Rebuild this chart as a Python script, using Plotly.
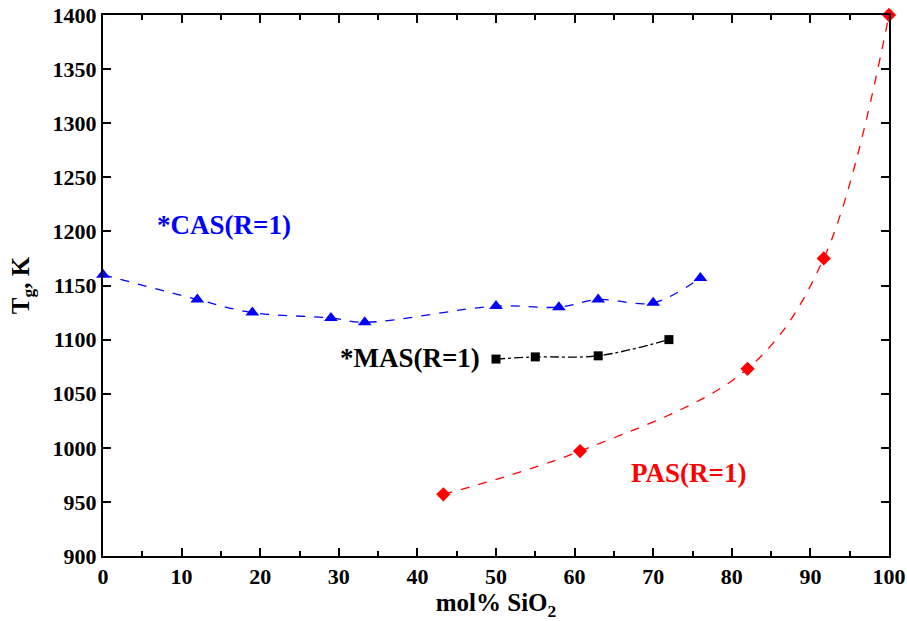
import plotly.graph_objects as go

cas_x = [0, 12, 19, 29, 33.3, 50, 58, 63, 70, 76]
cas_y = [1160, 1137, 1125, 1120, 1116, 1131, 1130, 1137, 1134, 1157]
mas_x = [50, 55, 63, 72]
mas_y = [1082, 1084, 1085, 1100]
pas_x = [43.3, 60.7, 82, 91.7, 100]
pas_y = [957, 997, 1073, 1175, 1400]

x_ticks = [0, 10, 20, 30, 40, 50, 60, 70, 80, 90, 100]
y_ticks = [900, 950, 1000, 1050, 1100, 1150, 1200, 1250, 1300, 1350, 1400]

font = "Liberation Serif"

fig = go.Figure()
fig.add_trace(go.Scatter(x=cas_x, y=cas_y, mode="lines+markers",
    line=dict(color="#0000ff", width=1.3, dash="dash", shape="spline"),
    marker=dict(symbol="triangle-up", size=12, color="#0000ff"), cliponaxis=False))
fig.add_trace(go.Scatter(x=mas_x, y=mas_y, mode="lines+markers",
    line=dict(color="black", width=1.3, dash="dashdot", shape="spline"),
    marker=dict(symbol="square", size=9, color="black"), cliponaxis=False))
fig.add_trace(go.Scatter(x=pas_x, y=pas_y, mode="lines+markers",
    line=dict(color="#ff0000", width=1.3, dash="dash", shape="spline"),
    marker=dict(symbol="diamond", size=11, color="#ff0000"), cliponaxis=False))

fig.add_annotation(x=6.6, y=1206, text="*CAS(R=1)", showarrow=False, xanchor="left",
                   font=dict(family=font, size=27, color="#0000ff", weight="bold"))
fig.add_annotation(x=48.2, y=1083, text="*MAS(R=1)", showarrow=False, xanchor="right",
                   font=dict(family=font, size=27, color="black", weight="bold"))
fig.add_annotation(x=74.5, y=976.5, text="PAS(R=1)", showarrow=False,
                   font=dict(family=font, size=27, color="#ff0000", weight="bold"))

axis_common = dict(showline=True, linecolor="black", linewidth=2, mirror="ticks",
                   ticks="inside", ticklen=8, tickwidth=2, tickcolor="black",
                   showgrid=False, zeroline=False, automargin=False,
                   ticklabeloverflow="allow",
                   minor=dict(ticks="inside", ticklen=5, tickwidth=2, tickcolor="black"),
                   tickfont=dict(family=font, size=22, color="black", weight="bold"))
fig.update_xaxes(range=[0, 100], tickvals=x_ticks, ticktext=[str(v) for v in x_ticks],
                 title=dict(text="mol% SiO<sub>2</sub>", font=dict(family=font, size=25, color="black", weight="bold"), standoff=0),
                 **axis_common)
fig.update_yaxes(range=[900, 1400], tickvals=y_ticks, ticktext=[str(v) for v in y_ticks],
                 title=dict(text="T<sub>g</sub>, K", font=dict(family=font, size=25, color="black", weight="bold"), standoff=16),
                 **axis_common)
fig.update_layout(width=907, height=621, showlegend=False,
                  plot_bgcolor="white", paper_bgcolor="white",
                  margin=dict(l=103, r=18, t=15, b=65),
                  font=dict(family=font))
fig.write_html("out.html", config={"displayModeBar": False},
               post_script="document.body.style.margin='0';document.body.style.overflow='hidden';")
